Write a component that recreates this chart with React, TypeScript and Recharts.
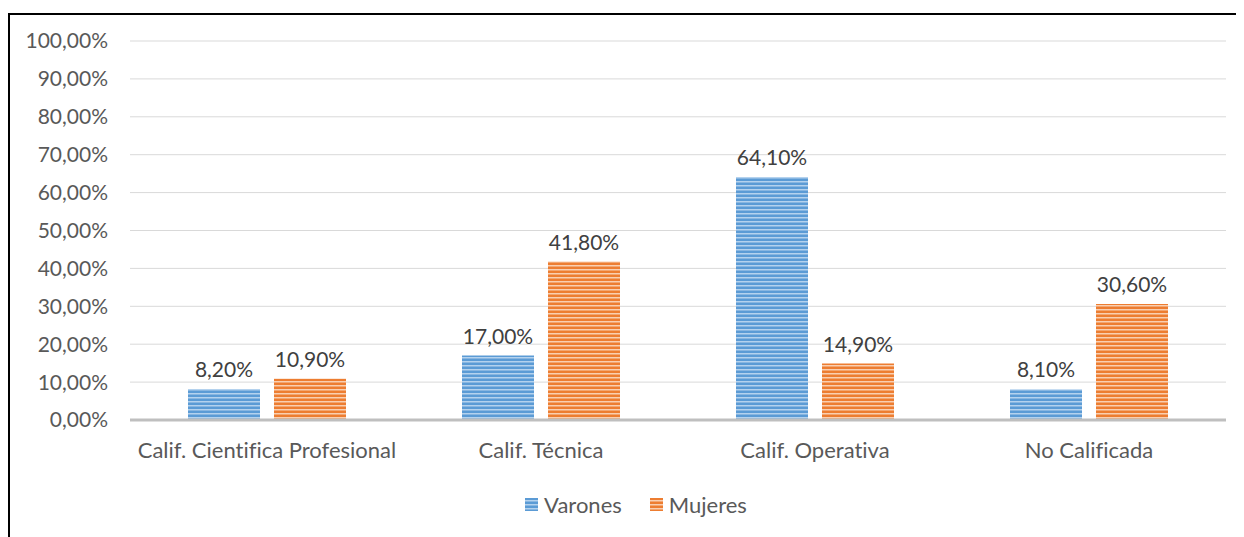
import React from 'react'
import { BarChart, Bar, XAxis, YAxis, CartesianGrid, Legend, LabelList } from 'recharts'

const categories = ['Calif. Cientifica Profesional', 'Calif. Técnica', 'Calif. Operativa', 'No Calificada']
const varones = [8.2, 17.0, 64.1, 8.1]
const mujeres = [10.9, 41.8, 14.9, 30.6]
const yTicks = [0, 10, 20, 30, 40, 50, 60, 70, 80, 90, 100]

const seriesInfo = [
  { key: 'varones', name: 'Varones', fill: 'url(#stripeBlue)' },
  { key: 'mujeres', name: 'Mujeres', fill: 'url(#stripeOrange)' },
]

const data = categories.map((c, i) => ({ name: c, varones: varones[i], mujeres: mujeres[i] }))

const FONT = 'Lato, "Open Sans", sans-serif'
const textStyle = { fontFamily: FONT, fontSize: 21, fill: '#595959' }

const fmtPct = (v: number) => `${v.toFixed(2).replace('.', ',')}%`

const LegendContent = () => (
  <div style={{ display: 'flex', justifyContent: 'center', gap: 28, paddingLeft: 36, fontFamily: FONT, fontSize: 22, color: '#595959' }}>
    {seriesInfo.map(s => (
      <div key={s.key} style={{ display: 'flex', alignItems: 'center', gap: 6 }}>
        <svg width={13} height={13}>
          <rect width={13} height={13} fill={s.fill} />
        </svg>
        <span>{s.name}</span>
      </div>
    ))}
  </div>
)

export default function App() {
  return (
    <div style={{ width: 1236, height: 529, overflow: 'hidden', marginTop: 5 }}>
      <style>{'text, span { font-variant-ligatures: none; font-feature-settings: "liga" 0, "clig" 0; }'}</style>
      <svg width={0} height={0} style={{ position: 'absolute' }}>
        <defs>
          <pattern id="stripeBlue" patternUnits="userSpaceOnUse" width={8} height={4}>
            <rect width={8} height={4} fill="#5b9bd5" />
            <rect y={2} width={8} height={1.5} fill="#b4d2ee" />
          </pattern>
          <pattern id="stripeOrange" patternUnits="userSpaceOnUse" width={8} height={4}>
            <rect width={8} height={4} fill="#ed7d31" />
            <rect y={2} width={8} height={1.5} fill="#f9cfb1" />
          </pattern>
        </defs>
      </svg>
      <div style={{ width: 1250, height: 540, border: '2px solid #000', background: '#fff' }}>
        <BarChart
          width={1240}
          height={525}
          data={data}
          margin={{ top: 26, right: 24, left: 0, bottom: 19 }}
          barGap={14}
          barSize={72}
        >
          <CartesianGrid vertical={false} stroke="#d9d9d9" />
          <XAxis
            dataKey="name"
            height={71}
            tickLine={false}
            axisLine={{ stroke: '#bfbfbf', strokeWidth: 3 }}
            tick={{ ...textStyle, fontSize: 22 }}
            tickMargin={16}
            interval={0}
          />
          <YAxis
            width={120}
            domain={[0, 100]}
            ticks={yTicks}
            tickFormatter={fmtPct}
            tickLine={false}
            axisLine={false}
            tickMargin={16}
            tick={textStyle}
          />
          <Legend verticalAlign="bottom" height={30} content={<LegendContent />} />
          {seriesInfo.map(s => (
            <Bar key={s.key} dataKey={s.key} name={s.name} fill={s.fill} isAnimationActive={false}>
              <LabelList
                dataKey={s.key}
                position="top"
                offset={12}
                formatter={(v: any) => fmtPct(Number(v))}
                style={{ ...textStyle, fill: '#404040' }}
              />
            </Bar>
          ))}
        </BarChart>
      </div>
    </div>
  )
}
